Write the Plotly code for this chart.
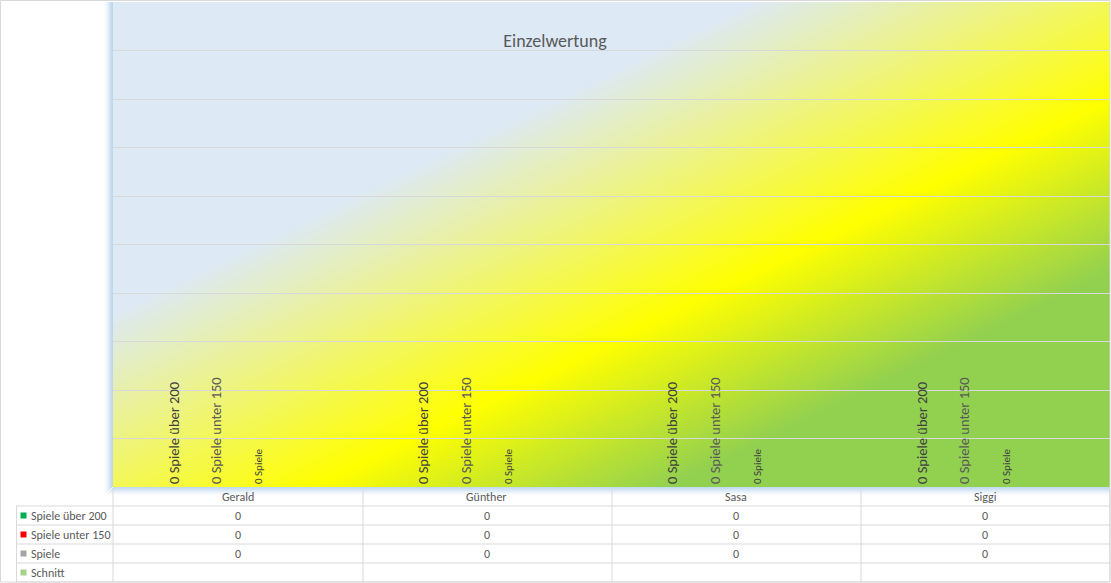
import base64
import struct
import zlib

import numpy as np
import plotly.graph_objects as go

# ---- data -------------------------------------------------------------
spieler = ["Gerald", "Günther", "Sasa", "Siggi"]
spiele_ueber_200 = [0, 0, 0, 0]
spiele_unter_150 = [0, 0, 0, 0]
spiele = [0, 0, 0, 0]
schnitt = [None, None, None, None]

serien = ["Spiele über 200", "Spiele unter 150", "Spiele", "Schnitt"]
farben = ["#00B050", "#FF0000", "#A5A5A5", "#A9D18E"]
label_farben = ["#404040", "#595959", "#404040", None]
label_groessen = [14.5, 14.5, 11, None]

titel = "Einzelwertung"

# ---- geometry ---------------------------------------------------------
W, H = 1111, 583
L, R, T, B = 113, 1, 2, 96
PW, PH = W - L - R, H - T - B
FONT = "Calibri, Carlito, Lato, sans-serif"
GRID = "#D9D9D9"


def px_x(px):
    return (px - L) / PW


def px_y(py):
    return (T + PH - py) / PH


def gradient_png(w, h):
    # excel style linear fill: light blue -> yellow -> green, corner to corner
    stops = [0.0, 0.32, 0.60, 0.78, 1.0]
    cols = np.array([(221, 233, 245), (221, 233, 245), (255, 255, 0),
                     (146, 208, 80), (146, 208, 80)], dtype=float)
    u = (np.arange(w) + 0.5) / w
    v = (np.arange(h) + 0.5) / h
    t = (u[None, :] + v[:, None]) / 2
    img = np.stack([np.interp(t, stops, cols[:, c]) for c in range(3)], axis=-1)
    img = img.round().astype(np.uint8)
    raw = b"".join(b"\x00" + img[i].tobytes() for i in range(h))

    def chunk(tag, data):
        return (struct.pack(">I", len(data)) + tag + data +
                struct.pack(">I", zlib.crc32(tag + data) & 0xFFFFFFFF))

    png = (b"\x89PNG\r\n\x1a\n" +
           chunk(b"IHDR", struct.pack(">IIBBBBB", w, h, 8, 2, 0, 0, 0)) +
           chunk(b"IDAT", zlib.compress(raw, 9)) +
           chunk(b"IEND", b""))
    return "data:image/png;base64," + base64.b64encode(png).decode()


fig = go.Figure()

werte = [spiele_ueber_200, spiele_unter_150, spiele, schnitt]
for name, vals, col, lcol, lsize in zip(serien, werte, farben, label_farben, label_groessen):
    kw = {}
    if lcol:
        kw = dict(texttemplate="%{y} " + name, textposition="outside",
                  textangle=-90, constraintext="none",
                  outsidetextfont=dict(family=FONT, size=lsize, color=lcol))
    fig.add_trace(go.Bar(x=spieler, y=vals, name=name, marker_color=col,
                         marker_line_width=0, cliponaxis=False, **kw))

shapes = []
annotations = []

# glow along left and bottom edge of plot area
glow = [1.0, 0.9, 0.75, 0.6, 0.45, 0.32, 0.2, 0.1, 0.04]
for k, op in enumerate(glow):
    shapes.append(dict(type="rect", xref="paper", yref="paper",
                       x0=px_x(L - k - 1), x1=px_x(L - k), y0=px_y(487 + k), y1=1,
                       fillcolor="#BDD7EE", opacity=op, line_width=0, layer="above"))
    shapes.append(dict(type="rect", xref="paper", yref="paper",
                       x0=px_x(L - k), x1=1, y0=px_y(487 + k + 1), y1=px_y(487 + k),
                       fillcolor="#BDD7EE", opacity=op * 0.9, line_width=0, layer="above"))

# data table
row_y = [506, 525, 544, 563, 582]
for py in row_y:
    shapes.append(dict(type="line", xref="paper", yref="paper",
                       x0=px_x(16), x1=px_x(1110), y0=px_y(py), y1=px_y(py),
                       line=dict(color=GRID, width=1)))
for px in [113, 363, 612, 861, 1110]:
    shapes.append(dict(type="line", xref="paper", yref="paper",
                       x0=px_x(px), x1=px_x(px), y0=px_y(489), y1=px_y(582),
                       line=dict(color=GRID, width=1)))
shapes.append(dict(type="line", xref="paper", yref="paper",
                   x0=px_x(16.5), x1=px_x(16.5), y0=px_y(506), y1=px_y(582),
                   line=dict(color=GRID, width=1)))
# chart border
shapes.append(dict(type="rect", xref="paper", yref="paper",
                   x0=px_x(0.5), x1=px_x(1110), y0=px_y(582), y1=px_y(0.5),
                   line=dict(color=GRID, width=1), layer="above"))

tab_font = dict(family=FONT, size=12, color="#595959")
for s in spieler:
    annotations.append(dict(x=s, y=px_y(497), xref="x", yref="paper", text=s,
                            showarrow=False, font=tab_font, yanchor="middle"))

row_centers = [515.5, 534.5, 553.5, 572.5]
for name, vals, col, yc in zip(serien, werte, farben, row_centers):
    shapes.append(dict(type="rect", xref="paper", yref="paper",
                       x0=px_x(20.5), x1=px_x(26.5), y0=px_y(yc + 3), y1=px_y(yc - 3),
                       fillcolor=col, line_width=0))
    annotations.append(dict(x=px_x(29), y=px_y(yc), xref="paper", yref="paper",
                            text=name, showarrow=False, font=tab_font,
                            xanchor="left", yanchor="middle"))
    for s, v in zip(spieler, vals):
        if v is not None:
            annotations.append(dict(x=s, y=px_y(yc), xref="x", yref="paper",
                                    text=str(v), showarrow=False, font=tab_font,
                                    yanchor="middle"))

fig.update_layout(
    width=W, height=H,
    margin=dict(l=L, r=R, t=T, b=B),
    paper_bgcolor="white",
    plot_bgcolor="rgba(0,0,0,0)",
    barmode="group",
    bargap=0.318,
    bargroupgap=0,
    showlegend=False,
    title=dict(text=titel, x=555 / W, xref="container", xanchor="center",
               y=1 - 41 / H, yref="container", yanchor="middle",
               font=dict(family=FONT, size=18, color="#595959")),
    xaxis=dict(showticklabels=False, showgrid=False, zeroline=False, showline=False,
               ticks=""),
    yaxis=dict(range=[0, 1], dtick=0.1, showticklabels=False, showgrid=True,
               gridcolor=GRID, gridwidth=1, zeroline=False, showline=False, ticks=""),
    images=[dict(source=gradient_png(PW, PH), xref="paper", yref="paper",
                 x=0, y=1, sizex=1, sizey=1, sizing="stretch",
                 xanchor="left", yanchor="top", layer="below")],
    shapes=shapes,
    annotations=annotations,
)

fig.write_html("out.html", config=dict(displayModeBar=False),
               post_script="document.body.style.margin='0';")
